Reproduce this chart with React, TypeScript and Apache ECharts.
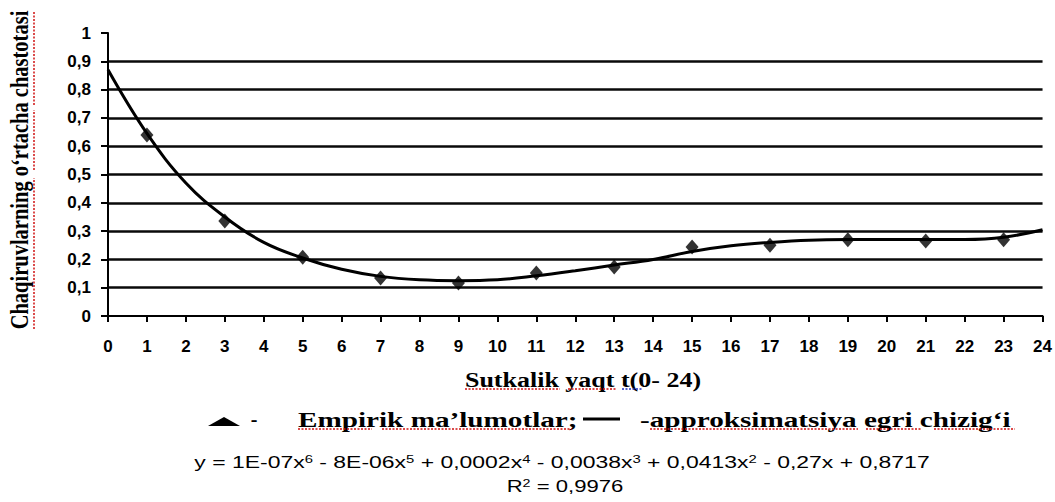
import React, { useEffect, useRef } from "react";
import * as echarts from "echarts";

// Empirical data (diamond markers)
const hours: number[] = [1, 3, 5, 7, 9, 11, 13, 15, 17, 19, 21, 23];
const empirical: number[] = [0.64, 0.336, 0.208, 0.134, 0.117, 0.152, 0.173, 0.244, 0.25, 0.269, 0.265, 0.269];

// Approximation curve
const fitHours: number[] = [0, 1, 2, 3, 4, 5, 6, 7, 8, 9, 10, 11, 12, 13, 14, 15, 16, 17, 18, 19, 20, 21, 22, 23, 24];
const fitValues: number[] = [0.87, 0.645, 0.47, 0.35, 0.26, 0.205, 0.165, 0.14, 0.128, 0.125, 0.128, 0.142, 0.16, 0.18, 0.2, 0.228, 0.248, 0.26, 0.268, 0.27, 0.27, 0.27, 0.27, 0.278, 0.305];

const yTitle = "Chaqiruvlarning o‘rtacha chastotasi";
const xTitle = "Sutkalik yaqt t(0- 24)";
const legendEmp = "Empirik ma’lumotlar;";
const legendFit = "-approksimatsiya egri chizig‘i";
const equationRich = "y = 1E-07x{s|6} - 8E-06x{s|5} + 0,0002x{s|4} - 0,0038x{s|3} + 0,0413x{s|2} - 0,27x + 0,8717";
const rSquaredRich = "R{s|2} = 0,9976";

const SERIF = "'Liberation Serif', 'DejaVu Serif', serif";
const SANS = "'Liberation Sans', Arial, sans-serif";

const squiggle = (x1: number, y1: number, x2: number, y2: number, color = "#d01010") => ({
  type: "line",
  shape: { x1, y1, x2, y2 },
  style: { stroke: color, lineWidth: 1.5, lineDash: [2, 1.5] },
  silent: true,
});

export default function App() {
  const ref = useRef<HTMLDivElement>(null);

  useEffect(() => {
    if (!ref.current) return;
    const chart = echarts.init(ref.current, undefined, { renderer: "svg" });
    const option: any = {
      animation: false,
      backgroundColor: "#ffffff",
      grid: { left: 108, right: 12, top: 33, bottom: 186, containLabel: false },
      xAxis: {
        type: "value",
        min: 0,
        max: 24,
        interval: 1,
        axisLine: { show: true, onZero: false, lineStyle: { color: "#000", width: 2 } },
        axisTick: { show: true, length: 6, lineStyle: { color: "#000", width: 2 } },
        axisLabel: { color: "#000", fontSize: 17, fontWeight: "bold", fontFamily: SANS, margin: 22 },
        splitLine: { show: false },
      },
      yAxis: {
        type: "value",
        min: 0,
        max: 1,
        interval: 0.1,
        axisLine: { show: true, lineStyle: { color: "#000", width: 2 } },
        axisTick: { show: true, length: 7, lineStyle: { color: "#000", width: 2 } },
        axisLabel: {
          color: "#000",
          fontSize: 17,
          fontWeight: "bold",
          fontFamily: SANS,
          margin: 17,
          formatter: (v: number) => {
            const r = Math.round(v * 10) / 10;
            if (r === 0 || r === 1) return String(r);
            return r.toFixed(1).replace(".", ",");
          },
        },
        splitLine: { show: true, showMinLine: false, showMaxLine: false, lineStyle: { color: "#0a0a0a", width: 2.5 } },
      },
      series: [
        {
          type: "line",
          data: fitHours.map((h, i) => [h, fitValues[i]]),
          smooth: 0.4,
          showSymbol: false,
          lineStyle: { color: "#000", width: 3 },
          z: 3,
        },
        {
          type: "scatter",
          data: hours.map((h, i) => [h, empirical[i]]),
          symbol: "diamond",
          symbolSize: [13, 15],
          itemStyle: { color: "#000" },
          z: 4,
        },
      ],
      graphic: [
        // y-axis title (rotated)
        {
          type: "text",
          x: 20,
          y: 170,
          rotation: Math.PI / 2,
          scaleY: 1.2,
          style: { text: yTitle, font: `bold 20.5px ${SERIF}`, fill: "#000", align: "center", verticalAlign: "middle" },
        },
        squiggle(34, 105, 34, 12),
        squiggle(34, 170, 34, 110),
        squiggle(34, 329, 34, 178),
        // x-axis title
        {
          type: "text",
          x: 583,
          y: 380,
          scaleX: 1.3,
          style: { text: xTitle, font: `bold 20px ${SERIF}`, fill: "#000", align: "center", verticalAlign: "middle" },
        },
        squiggle(465, 389, 560, 389),
        squiggle(568, 389, 616, 389),
        squiggle(622, 389, 642, 389, "#2030c0"),
        // legend
        {
          type: "polygon",
          shape: { points: [[208, 426], [224, 417], [240, 426]] },
          style: { fill: "#000" },
        },
        {
          type: "text",
          x: 254,
          y: 419,
          style: { text: "-", font: `bold 20px ${SERIF}`, fill: "#000", align: "center", verticalAlign: "middle" },
        },
        {
          type: "text",
          x: 298,
          y: 420,
          scaleX: 1.39,
          style: { text: legendEmp, font: `bold 21px ${SERIF}`, fill: "#000", align: "left", verticalAlign: "middle" },
        },
        squiggle(298, 429, 372, 429),
        squiggle(382, 429, 572, 429),
        {
          type: "line",
          shape: { x1: 583, y1: 419, x2: 620, y2: 419 },
          style: { stroke: "#000", lineWidth: 3 },
        },
        {
          type: "text",
          x: 640,
          y: 420,
          scaleX: 1.39,
          style: { text: legendFit, font: `bold 21px ${SERIF}`, fill: "#000", align: "left", verticalAlign: "middle" },
        },
        squiggle(650, 429, 858, 429),
        squiggle(866, 429, 922, 429),
        squiggle(934, 429, 1015, 429),
        // trendline equation
        {
          type: "text",
          x: 562,
          y: 462,
          scaleX: 1.35,
          style: {
            text: equationRich,
            fontSize: 17,
            fontFamily: SANS,
            fill: "#000",
            align: "center",
            verticalAlign: "middle",
            rich: { s: { fontSize: 11, fontFamily: SANS, fill: "#000", verticalAlign: "top" } },
          },
        },
        {
          type: "text",
          x: 565,
          y: 486,
          scaleX: 1.3,
          style: {
            text: rSquaredRich,
            fontSize: 17,
            fontFamily: SANS,
            fill: "#000",
            align: "center",
            verticalAlign: "middle",
            rich: { s: { fontSize: 11, fontFamily: SANS, fill: "#000", verticalAlign: "top" } },
          },
        },
      ],
    };
    chart.setOption(option);
    return () => chart.dispose();
  }, []);

  return (
    <div
      ref={ref}
      style={{ position: "fixed", left: 0, top: 0, width: 1055, height: 502, background: "#fff" }}
    />
  );
}
